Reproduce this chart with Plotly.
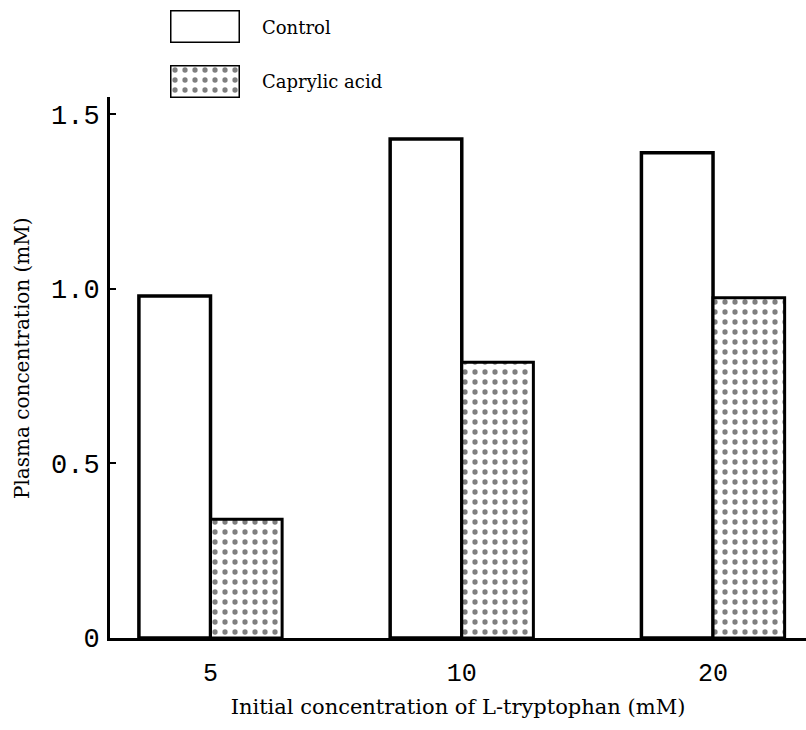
import plotly.graph_objects as go

categories = ["5", "10", "20"]
control = [0.98, 1.43, 1.39]
caprylic = [0.34, 0.79, 0.975]
y_tick_vals = [0, 0.5, 1.0, 1.5]
y_tick_text = ["0", "0.5", "1.0", "1.5"]
series_names = ["Control", "Caprylic acid"]
x_title = "Initial concentration of L-tryptophan (mM)"
y_title = "Plasma concentration (mM)"

W, H = 806, 730
L, R, T, B = 110, 806, 97, 638  # plot area in px

pattern = dict(shape=".", fgcolor="black", bgcolor="white", size=10, solidity=0.22)

fig = go.Figure()
fig.add_trace(go.Bar(x=categories, y=control, name=series_names[0],
                     marker=dict(color="white", line=dict(color="black", width=3.5))))
fig.add_trace(go.Bar(x=categories, y=caprylic, name=series_names[1],
                     marker=dict(color="white", pattern=pattern,
                                 line=dict(color="black", width=3))))

# legend swatches on small auxiliary axes
fig.add_trace(go.Bar(x=[0], y=[1], width=[1], xaxis="x2", yaxis="y2",
                     marker=dict(color="white", line=dict(color="black", width=3)),
                     showlegend=False, hoverinfo="skip"))
fig.add_trace(go.Bar(x=[0], y=[1], width=[1], xaxis="x2", yaxis="y3",
                     marker=dict(color="white", pattern=pattern,
                                 line=dict(color="black", width=3)),
                     showlegend=False, hoverinfo="skip"))

ymono = dict(family="Liberation Mono, DejaVu Sans Mono, monospace", size=27, color="black")
xmono = dict(family="Liberation Mono, DejaVu Sans Mono, monospace", size=25, color="black")
xserif = dict(family="DejaVu Serif, Liberation Serif, serif", size=21, color="black")
yserif = dict(family="DejaVu Serif, Liberation Serif, serif", size=20, color="black")
legfont = dict(family="DejaVu Serif, Liberation Serif, serif", size=18, color="black")

fig.update_layout(
    width=W, height=H,
    margin=dict(l=0, r=0, t=0, b=0, autoexpand=False),
    paper_bgcolor="white", plot_bgcolor="white",
    showlegend=False,
    barmode="group", bargap=0.43, bargroupgap=0,
    xaxis=dict(domain=[L / W, R / W], range=[-0.40, 2.37], automargin=False,
               showline=True, linecolor="black", linewidth=3,
               showgrid=False, zeroline=False, ticks="",
               tickfont=xmono, ticklabelstandoff=10,
               title=dict(text=x_title, font=xserif, standoff=12),
               anchor="y"),
    yaxis=dict(domain=[(H - B) / H, (H - T) / H], range=[0, 1.55], automargin=False,
               showline=True, linecolor="black", linewidth=3,
               showgrid=False, zeroline=False,
               tickvals=y_tick_vals, ticktext=y_tick_text,
               ticks="inside", ticklen=6, tickwidth=2, tickcolor="black",
               tickfont=ymono, ticklabelstandoff=2,
               anchor="x"),
    xaxis2=dict(domain=[170 / W, 240 / W], range=[-0.5, 0.5], visible=False, anchor="y2"),
    yaxis2=dict(domain=[(H - 43) / H, (H - 10) / H], range=[0, 1], visible=False, anchor="x2"),
    yaxis3=dict(domain=[(H - 98) / H, (H - 65) / H], range=[0, 1], visible=False, anchor="x2"),
)

fig.add_annotation(x=22 / W, y=(H - 358) / H, xref="paper", yref="paper",
                   text=y_title, textangle=-90, showarrow=False,
                   xanchor="center", yanchor="middle", font=yserif)
fig.add_annotation(x=260 / W, y=(H - 27) / H, xref="paper", yref="paper",
                   text=series_names[0], showarrow=False, xanchor="left", yanchor="middle", font=legfont)
fig.add_annotation(x=260 / W, y=(H - 82) / H, xref="paper", yref="paper",
                   text=series_names[1], showarrow=False, xanchor="left", yanchor="middle", font=legfont)

fig.write_html("out.html", config={"displayModeBar": False},
               post_script="document.body.style.margin='0';document.body.style.overflow='hidden';")
